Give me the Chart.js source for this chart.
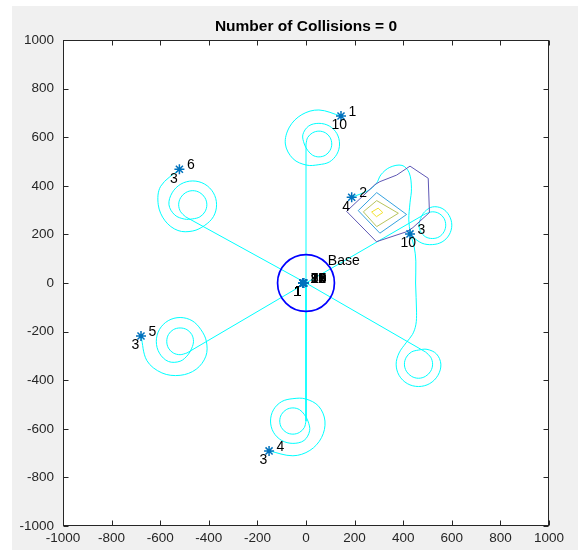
<!DOCTYPE html>
<html>
<head>
<meta charset="utf-8">
<script src="https://cdn.jsdelivr.net/npm/chart.js@4.4.1/dist/chart.umd.min.js"></script>
<style>
  html, body { margin: 0; padding: 0; background: #ffffff; }
  #wrap { position: absolute; left: 0; top: 0; width: 578px; height: 550px; }
</style>
</head>
<body>
<div id="wrap"><canvas id="c" width="578" height="550"></canvas></div>
<script>
// ---- axes ----
const tickValues = [-1000, -800, -600, -400, -200, 0, 200, 400, 600, 800, 1000];
const titleText = 'Number of Collisions = 0';

// ---- base station ----
const baseCenter = [0, 0];
const baseRadius = 117;
const baseLabel = 'Base';
const baseLabelPos = [90, 90];

// ---- UAV positions and labels (id above-right, count below-left) ----
const uavX      = [144, 188, 428, -152, -679, -521, -11, -11, -11, -11, -11, -11, -11, -11, -11, -11, -11, -11, -11, -11];
const uavY      = [687, 353, 202, -691, -218, 468, 0, 0, 0, 0, 0, 0, 0, 0, 0, 0, 0, 0, 0, 0];
const uavIds    = ['1', '2', '3', '4', '5', '6', '7', '8', '9', '10', '11', '12', '13', '14', '15', '16', '17', '18', '19', '20'];
const uavCounts = ['10', '4', '10', '3', '3', '3', '1', '1', '1', '1', '1', '1', '1', '1', '1', '1', '1', '1', '1', '1'];

// ---- straight legs flown out of the base ----
const spokeEnds = [[0, 572], [0, -568], [-495, 272], [-490, -288], [492, -284], [492, 285]];

// ---- loiter / search tracks (clockwise circles of growing radius) ----
const track1 = [[0,572],[7,599],[27,618],[53,625],[80,618],[99,599],[106,572],[99,546],[80,526],[53,519],[27,526],[7,546],
  [-7,572],[-13,610],[11,646],[53,657],[96,646],[127,615],[138,572],[127,530],[96,498],[53,487],
  [3,485],[-53,511],[-85,572],[-68,642],[-17,693],[53,712],[144,687]];
const track4 = [[0,-568],[-7,-595],[-27,-615],[-54,-622],[-81,-615],[-101,-595],[-108,-568],[-101,-541],[-81,-521],[-54,-514],[-27,-521],[-7,-541],
  [8,-568],[15,-608],[-8,-648],[-54,-660],[-100,-648],[-134,-614],[-146,-568],[-134,-522],[-100,-488],[-54,-476],
  [-2,-477],[52,-507],[78,-568],[64,-636],[16,-689],[-54,-711],[-152,-691]];
const track6 = [[-495,272],[-516,293],[-524,322],[-516,351],[-495,372],[-466,380],[-437,372],[-416,351],[-408,322],[-416,293],[-437,272],[-466,264],
  [-500,263],[-540,280],[-564,322],[-551,371],[-515,407],[-466,420],[-417,407],[-381,371],[-368,322],[-381,273],[-417,237],
  [-466,214],[-527,216],[-580,256],[-608,322],[-598,398],[-521,468]];
const track5 = [[-490,-288],[-518,-295],[-546,-288],[-566,-268],[-573,-240],[-566,-212],[-546,-192],[-518,-185],[-490,-192],[-470,-212],[-463,-240],[-470,-268],
  [-486,-296],[-518,-322],[-566,-323],[-603,-289],[-616,-240],[-603,-191],[-567,-155],[-518,-142],[-469,-155],[-433,-191],
  [-410,-240],[-412,-301],[-452,-355],[-518,-380],[-593,-370],[-655,-319],[-679,-218]];
const track2 = [[492,-284],[513,-305],[521,-334],[513,-363],[492,-384],[463,-392],[434,-384],[413,-363],[405,-334],[413,-305],[434,-284],[463,-276],
  [498,-273],[537,-292],[555,-334],[543,-380],[509,-414],[463,-426],[417,-414],[383,-380],[371,-334],[383,-288],
  [412,-246],[438,-212],[452,-172],[455,-120],[451,0],[452,90],[445,150],[430,205],[423,260],[428,330],
  [434,390],[424,455],[395,484],[345,476],[308,445],[290,410],[255,380],[188,353]];
const track3 = [[492,285],[520,293],[548,286],[568,266],[575,238],[568,211],[548,190],[520,183],[492,190],[472,211],[465,238],[472,266],
  [488,293],[520,313],[560,307],[589,278],[600,238],[589,198],[560,169],[520,158],[477,164],[438,191],[428,202]];

// ---- threat field contour levels ----
const contourLevel1 = [[167,295],[284,405],[304,417],[373,444],[428,481],[503,431],[508,290],[440,228],[414,211],[290,170],[167,295]];
const contourLevel2 = [[215,298],[291,372],[414,282],[304,205],[215,298]];
const contourLevel3 = [[236,293],[291,339],[380,287],[291,232],[236,293]];
const contourLevel4 = [[270,292],[297,308],[316,290],[290,273],[270,292]];

const FONT = "'Liberation Sans', Arial, Helvetica, sans-serif";
const CYAN = '#00ffff';
const contourColors = ['#5f58b5', '#35a2df', '#b8c45c', '#f3e22c'];

const pts = a => a.map(p => ({ x: p[0], y: p[1] }));

const datasets = [];
// markers on top
datasets.push({
  data: uavX.map((x, i) => ({ x, y: uavY[i] })),
  showLine: false,
  pointStyle: 'star',
  pointRadius: 5,
  borderColor: '#0072BD',
  backgroundColor: '#0072BD',
  borderWidth: 1.5
});
[contourLevel4, contourLevel3, contourLevel2, contourLevel1].forEach((c, i) => {
  datasets.push({
    data: pts(c), showLine: true, pointRadius: 0, borderWidth: 1,
    borderColor: contourColors[3 - i], tension: 0, fill: false
  });
});
[track1, track2, track3, track4, track5, track6].forEach(t => {
  datasets.push({
    data: pts(t), showLine: true, pointRadius: 0, borderWidth: 1,
    borderColor: CYAN, tension: 0.35, fill: false
  });
});
spokeEnds.forEach(e => {
  datasets.push({
    data: pts([baseCenter, e]), showLine: true, pointRadius: 0, borderWidth: 1,
    borderColor: CYAN, tension: 0, fill: false
  });
});

// figure background (grey) with white axes area
const figureBg = {
  id: 'figureBg',
  beforeDraw(chart) {
    const { ctx, chartArea: a } = chart;
    ctx.save();
    ctx.fillStyle = '#ffffff';
    ctx.fillRect(0, 0, chart.width, chart.height);
    ctx.fillStyle = '#f0f0f0';
    ctx.fillRect(12, 6, chart.width - 12, chart.height - 6);
    ctx.fillStyle = '#ffffff';
    ctx.fillRect(a.left, a.top, a.right - a.left, a.bottom - a.top);
    ctx.restore();
  }
};

// base station ring
const baseRing = {
  id: 'baseRing',
  afterDatasetsDraw(chart) {
    const { ctx, scales: { x, y } } = chart;
    const cx = x.getPixelForValue(baseCenter[0]);
    const cy = y.getPixelForValue(baseCenter[1]);
    const r = x.getPixelForValue(baseCenter[0] + baseRadius) - cx;
    ctx.save();
    ctx.strokeStyle = '#0000ff';
    ctx.lineWidth = 1.7;
    ctx.beginPath();
    ctx.arc(cx, cy, r, 0, Math.PI * 2);
    ctx.stroke();
    ctx.restore();
  }
};

// UAV id / count labels and base label
const textLabels = {
  id: 'textLabels',
  afterDatasetsDraw(chart) {
    const { ctx, scales: { x, y } } = chart;
    ctx.save();
    ctx.font = '14px ' + FONT;
    ctx.fillStyle = '#000000';
    ctx.textAlign = 'left';
    ctx.textBaseline = 'middle';
    uavX.forEach((vx, i) => {
      const px = x.getPixelForValue(vx);
      const py = y.getPixelForValue(uavY[i]);
      ctx.fillText(uavIds[i], px + 7.5, py - 4);
      ctx.fillText(uavCounts[i], px - 9.5, py + 9.5);
    });
    ctx.fillText(baseLabel, x.getPixelForValue(baseLabelPos[0]), y.getPixelForValue(baseLabelPos[1]));
    ctx.restore();
  }
};

// boxed axes with inward ticks on all four sides
const axesBox = {
  id: 'axesBox',
  afterDraw(chart) {
    const { ctx, chartArea: a, scales: { x, y } } = chart;
    const L = Math.round(a.left) + 0.5, R = Math.round(a.right) - 0.5;
    const T = Math.round(a.top) + 0.5, B = Math.round(a.bottom) - 0.5;
    ctx.save();
    ctx.strokeStyle = '#262626';
    ctx.lineWidth = 1;
    ctx.strokeRect(L, T, R - L, B - T);
    ctx.beginPath();
    tickValues.forEach(v => {
      const px = Math.round(x.getPixelForValue(v)) + 0.5;
      ctx.moveTo(px, B); ctx.lineTo(px, B - 5);
      ctx.moveTo(px, T); ctx.lineTo(px, T + 5);
      const py = Math.round(y.getPixelForValue(v)) + 0.5;
      ctx.moveTo(L, py); ctx.lineTo(L + 5, py);
      ctx.moveTo(R, py); ctx.lineTo(R - 5, py);
    });
    ctx.stroke();
    ctx.restore();
  }
};

const tickFont = { family: FONT, size: 13.5 };

new Chart(document.getElementById('c'), {
  type: 'scatter',
  data: { datasets },
  options: {
    responsive: false,
    animation: false,
    devicePixelRatio: 1,
    layout: { padding: { left: 0, right: 29, top: 0, bottom: 0 } },
    plugins: {
      legend: { display: false },
      tooltip: { enabled: false },
      title: {
        display: true,
        text: titleText,
        fullSize: false,
        color: '#000000',
        font: { family: FONT, size: 15.5, weight: 'bold' },
        padding: { top: 17, bottom: 4.4 }
      }
    },
    scales: {
      x: {
        type: 'linear', min: -1000, max: 1000,
        afterBuildTicks(s) { s.ticks = tickValues.map(v => ({ value: v })); },
        afterFit(s) { s.height = 24; },
        grid: { display: false, drawTicks: false },
        border: { display: false },
        ticks: { callback: v => String(v), font: tickFont, color: '#262626', padding: 4, autoSkip: false, maxRotation: 0, minRotation: 0 }
      },
      y: {
        type: 'linear', min: -1000, max: 1000,
        afterBuildTicks(s) { s.ticks = tickValues.map(v => ({ value: v })); },
        afterFit(s) { s.width = 63; },
        grid: { display: false, drawTicks: false },
        border: { display: false },
        ticks: { callback: v => String(v), font: tickFont, color: '#262626', padding: 9, autoSkip: false }
      }
    }
  },
  plugins: [figureBg, baseRing, textLabels, axesBox]
});
</script>
</body>
</html>
